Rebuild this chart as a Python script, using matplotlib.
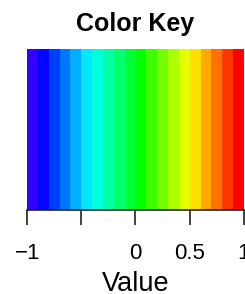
import numpy as np
import matplotlib
matplotlib.use("Agg")
import matplotlib.pyplot as plt
from matplotlib.colors import ListedColormap

# colour key: 20 colours over the value range -1..1
key_colors = ['#3300FF', '#0005FF', '#003EFF', '#0076FF', '#00AFFF',
              '#00E7FF', '#00FFDF', '#00FFA7', '#00FF6E', '#00FF36',
              '#03FF00', '#3BFF00', '#74FF00', '#ACFF00', '#E4FF00',
              '#FFE100', '#FFA900', '#FF7100', '#FF3800', '#FF0000']
vmin, vmax = -1, 1
tick_values = [-1, -0.5, 0, 0.5, 1]
tick_labels = ['\u22121', '', '0', '0.5', '1']

plt.rcParams['font.family'] = ['Liberation Sans', 'DejaVu Sans']

fig = plt.figure(figsize=(2.45, 2.94), dpi=100)
ax = fig.add_axes([0.112, 0.287, 0.882, 0.546])

ax.imshow([np.arange(len(key_colors))], cmap=ListedColormap(key_colors),
          extent=(vmin, vmax, 0, 1), aspect='auto', interpolation='nearest')
ax.set_xlim(vmin, vmax)
ax.set_ylim(0, 1)

for s in ['top', 'left', 'right']:
    ax.spines[s].set_visible(False)
ax.spines['bottom'].set_linewidth(1.2)
ax.spines['bottom'].set_color('#222222')
ax.set_yticks([])
ax.set_xticks(tick_values)
ax.set_xticklabels(tick_labels, fontsize=16)
ax.tick_params(axis='x', length=11, width=1.2, color='#222222', pad=13)

ax.set_xlabel('Value', fontsize=19.5, labelpad=5)
ax.set_title('Color Key', fontsize=18, fontweight='bold', pad=13)

fig.savefig('out.png', dpi=100)
